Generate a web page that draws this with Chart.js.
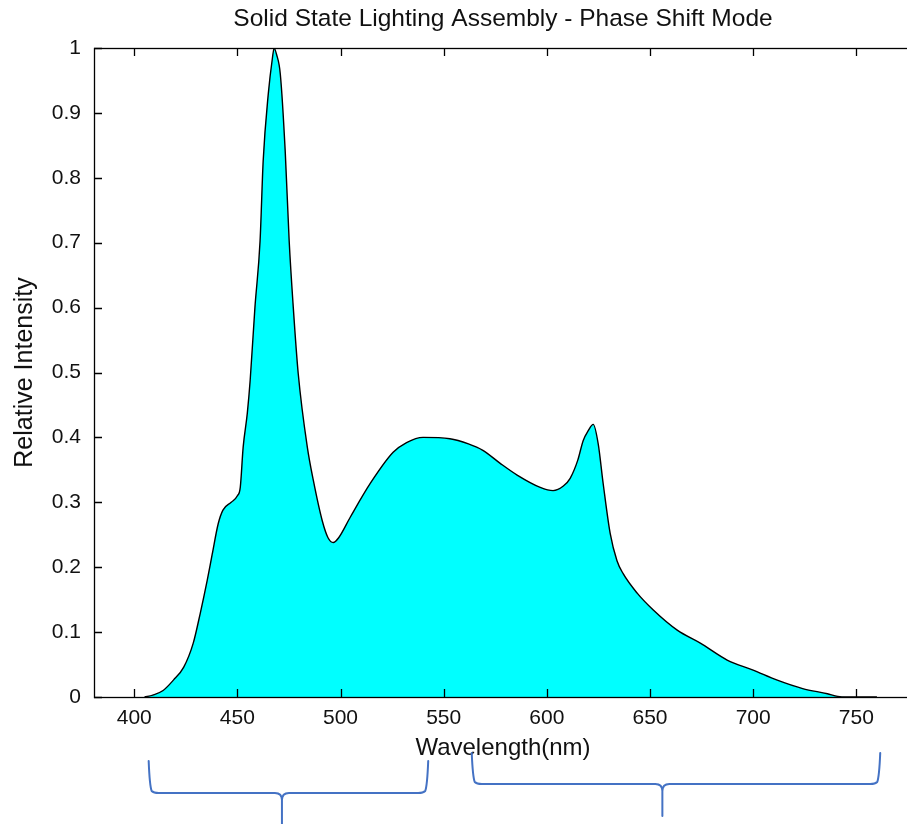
<!DOCTYPE html>
<html><head><meta charset="utf-8">
<script src="https://cdn.jsdelivr.net/npm/chart.js@4.4.1/dist/chart.umd.min.js"></script>
<style>
html,body{margin:0;padding:0;overflow:hidden;background:#fff;width:907px;height:824px}
#wrap{position:absolute;left:0;top:0;width:930px;height:824px}
</style>
</head><body><div id="wrap"><canvas id="c" width="930" height="824"></canvas></div>
<script>
const wavelengths = [405, 409, 414, 419, 424, 428.6, 432, 435.4, 437.8, 440.7, 443, 447, 450, 451.4, 452.8, 454.8, 456.2, 458.5, 461, 462.5, 465, 467, 467.8, 469, 470.8, 473.2, 475.1, 477.1, 479.5, 483.9, 486.8, 491.1, 494, 496.5, 499, 504.7, 514.4, 525.5, 532, 540, 553, 562, 569, 577.4, 585.6, 596.8, 603, 608, 611.3, 615, 617.6, 620, 622.5, 624.9, 627.3, 630.7, 634, 637, 643.8, 651.6, 663.2, 674.4, 687.4, 700, 711.7, 724, 736, 741, 745, 760];
const intensities = [0, 0.003, 0.01, 0.026, 0.046, 0.083, 0.129, 0.18, 0.22, 0.267, 0.288, 0.3, 0.31, 0.323, 0.385, 0.437, 0.488, 0.6, 0.703, 0.826, 0.93, 0.985, 1.0, 0.99, 0.96, 0.84, 0.703, 0.6, 0.498, 0.385, 0.334, 0.272, 0.245, 0.238, 0.245, 0.277, 0.329, 0.377, 0.392, 0.40, 0.398, 0.39, 0.38, 0.36, 0.342, 0.323, 0.318, 0.325, 0.337, 0.365, 0.395, 0.41, 0.42, 0.39, 0.329, 0.252, 0.21, 0.19, 0.16, 0.134, 0.103, 0.083, 0.057, 0.0415, 0.026, 0.013, 0.005, 0.001, 0, 0];
const xTickValues = [400, 450, 500, 550, 600, 650, 700, 750];
const xTickLabels = ['400', '450', '500', '550', '600', '650', '700', '750'];
const yTickValues = [0, 0.1, 0.2, 0.3, 0.4, 0.5, 0.6, 0.7, 0.8, 0.9, 1];
const yTickLabels = ['0', '0.1', '0.2', '0.3', '0.4', '0.5', '0.6', '0.7', '0.8', '0.9', '1'];
const titleText = 'Solid State Lighting Assembly - Phase Shift Mode';
const xTitleText = 'Wavelength(nm)';
const yTitleText = 'Relative Intensity';
const braceFrom = [407, 563.6];
const braceTo = [542.5, 761.6];
const braceTip = [471.6, 656];

const points = wavelengths.map((w, i) => ({x: w, y: intensities[i]}));
const FONT = "'Liberation Sans', Arial, sans-serif";

const framePlugin = {
  id: 'frame',
  afterDatasetsDraw(chart) {
    const {ctx, chartArea: a, scales: {x, y}} = chart;
    ctx.save();
    ctx.strokeStyle = '#000';
    ctx.lineWidth = 1.3;
    ctx.strokeRect(a.left + 0.5, a.top + 0.5, a.right - a.left, a.bottom - a.top);
    ctx.beginPath();
    x.ticks.forEach(t => {
      const px = Math.round(x.getPixelForValue(t.value)) + 0.5;
      ctx.moveTo(px, a.bottom); ctx.lineTo(px, a.bottom - 8);
      ctx.moveTo(px, a.top); ctx.lineTo(px, a.top + 8);
    });
    y.ticks.forEach(t => {
      const py = Math.round(y.getPixelForValue(t.value)) + 0.5;
      ctx.moveTo(a.left, py); ctx.lineTo(a.left + 8, py);
    });
    ctx.stroke();
    ctx.restore();
  },
  afterDraw(chart) {
    const {ctx, scales: {x}} = chart;
    const geo = [
      {top: 761, line: 793, tip: 824},
      {top: 753, line: 784, tip: 816}
    ];
    ctx.save();
    ctx.strokeStyle = '#4472C4';
    ctx.lineWidth = 2;
    ctx.lineJoin = 'round';
    ctx.lineCap = 'round';
    for (let i = 0; i < braceFrom.length; i++) {
      const x1 = x.getPixelForValue(braceFrom[i]);
      const x2 = x.getPixelForValue(braceTo[i]);
      const xm = x.getPixelForValue(braceTip[i]);
      const g = geo[i];
      const r = 7;
      ctx.beginPath();
      ctx.moveTo(x1, g.top);
      ctx.quadraticCurveTo(x1 + 1, g.line - r, x1 + 3, g.line - 2);
      ctx.quadraticCurveTo(x1 + 5, g.line, x1 + r + 3, g.line);
      ctx.lineTo(xm - r, g.line);
      ctx.quadraticCurveTo(xm, g.line, xm, g.line + r);
      ctx.lineTo(xm, g.tip);
      ctx.moveTo(xm, g.line + r);
      ctx.quadraticCurveTo(xm, g.line, xm + r, g.line);
      ctx.lineTo(x2 - r - 3, g.line);
      ctx.quadraticCurveTo(x2 - 5, g.line, x2 - 3, g.line - 2);
      ctx.quadraticCurveTo(x2 - 1, g.line - r, x2, g.top);
      ctx.stroke();
    }
    ctx.restore();
  }
};

new Chart(document.getElementById('c'), {
  type: 'line',
  data: {
    datasets: [{
      data: points,
      borderColor: '#000',
      borderWidth: 1.4,
      backgroundColor: '#00FFFF',
      fill: 'origin',
      pointRadius: 0,
      tension: 0,
      cubicInterpolationMode: 'monotone'
    }]
  },
  options: {
    responsive: false,
    animation: false,
    devicePixelRatio: 1,
    layout: {padding: {left: 0, right: 18, top: 0, bottom: 0}},
    plugins: {
      legend: {display: false},
      tooltip: {enabled: false},
      title: {
        display: true,
        text: titleText,
        fullSize: false,
        color: '#111',
        font: {family: FONT, size: 24.5, weight: 'normal', lineHeight: 1.2},
        padding: {top: 5, bottom: 13.6}
      }
    },
    scales: {
      x: {
        type: 'linear',
        min: 380.5,
        max: 777,
        afterBuildTicks: s => { s.ticks = xTickValues.map(v => ({value: v})); },
        afterFit: s => { s.height = 127; },
        grid: {display: false, drawTicks: false},
        border: {display: false},
        ticks: {
          padding: 9,
          color: '#111',
          font: {family: FONT, size: 21},
          callback: (v) => xTickLabels[xTickValues.indexOf(v)] ?? ''
        },
        title: {
          display: true,
          text: xTitleText,
          color: '#111',
          font: {family: FONT, size: 24},
          padding: {top: 0, bottom: 61.6}
        }
      },
      y: {
        type: 'linear',
        min: 0,
        max: 1,
        afterBuildTicks: s => { s.ticks = yTickValues.map(v => ({value: v})); },
        afterFit: s => { s.width = 94; },
        grid: {display: false, drawTicks: false},
        border: {display: false},
        ticks: {
          padding: 13,
          color: '#111',
          font: {family: FONT, size: 21},
          callback: (v) => yTickLabels[yTickValues.indexOf(v)] ?? ''
        },
        title: {
          display: true,
          text: yTitleText,
          color: '#111',
          font: {family: FONT, size: 25},
          padding: {top: 10, bottom: 0}
        }
      }
    }
  },
  plugins: [framePlugin]
});
</script>
</body></html>
